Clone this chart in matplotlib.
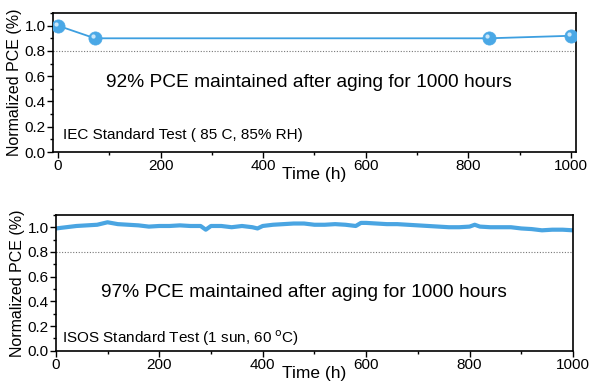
import matplotlib.pyplot as plt
from matplotlib.ticker import MultipleLocator
from matplotlib.path import Path

plt.rcParams['font.family'] = ['Liberation Sans', 'DejaVu Sans']

# IEC damp-heat test (85 C, 85% RH)
iec_time = [0, 72, 840, 1000]
iec_pce = [1.00, 0.90, 0.90, 0.92]

# ISOS light-soaking test (1 sun, 60 C)
isos_time = [0, 20, 40, 60, 80, 100, 120, 140, 160, 180, 200, 220, 240, 260,
             280, 290, 300, 320, 340, 360, 380, 390, 400, 420, 440, 460, 480,
             500, 520, 540, 560, 580, 590, 600, 620, 640, 660, 680, 700, 720,
             740, 760, 780, 800, 810, 820, 840, 860, 880, 900, 920, 940, 960,
             980, 1000]
isos_pce = [0.99, 1.00, 1.01, 1.015, 1.02, 1.04, 1.025, 1.02, 1.015, 1.005,
            1.01, 1.01, 1.015, 1.01, 1.01, 0.98, 1.01, 1.01, 1.00, 1.01, 1.00,
            0.99, 1.01, 1.02, 1.025, 1.03, 1.03, 1.02, 1.02, 1.025, 1.02, 1.01,
            1.035, 1.035, 1.03, 1.025, 1.025, 1.02, 1.015, 1.01, 1.005, 1.00,
            1.00, 1.005, 1.02, 1.005, 1.00, 1.00, 1.00, 0.99, 0.985, 0.975,
            0.98, 0.98, 0.975]

blue = '#3d9fe0'

# small offset highlight to make the markers look like spheres
hl = Path.circle(center=(-0.3, 0.3), radius=0.32)
highlight = Path(list(hl.vertices) + [(1, 1), (-1, -1)],
                 list(hl.codes) + [Path.MOVETO, Path.MOVETO])

fig = plt.figure(figsize=(6, 3.83), dpi=100)
ax1 = fig.add_axes([0.088, 0.603, 0.872, 0.363])
ax2 = fig.add_axes([0.093, 0.084, 0.862, 0.355])


def style(ax):
    ax.set_ylim(0, 1.1)
    ax.axhline(0.8, color='#777777', lw=0.8, ls=(0, (1, 1.5)))
    ax.xaxis.set_major_locator(MultipleLocator(200))
    ax.xaxis.set_minor_locator(MultipleLocator(100))
    ax.yaxis.set_major_locator(MultipleLocator(0.2))
    ax.yaxis.set_minor_locator(MultipleLocator(0.1))
    ax.tick_params(which='both', direction='out', labelsize=11, pad=1)
    ax.tick_params(which='major', length=4, width=1)
    ax.tick_params(which='minor', length=2.5, width=1)
    for s in ax.spines.values():
        s.set_linewidth(1.2)
    ax.set_xlabel('Time (h)', fontsize=12.5, labelpad=-4)
    ax.set_ylabel('Normalized PCE (%)', fontsize=11.5, labelpad=2)
    ax.yaxis.set_major_formatter(plt.FuncFormatter(lambda v, p: f'{v:.1f}'))


ax1.plot(iec_time, iec_pce, color=blue, lw=1.3, marker='o', ms=9.5,
         mfc='#4aa8e6', mec='#4aa8e6', mew=0.5, zorder=3)
ax1.plot(iec_time, iec_pce, ls='none', marker=highlight, ms=9.5,
         mfc='#d8eefc', mec='none', alpha=0.9, zorder=4)
ax1.set_xlim(-10, 1010)
style(ax1)
ax1.text(0.49, 0.5, '92% PCE maintained after aging for 1000 hours',
         transform=ax1.transAxes, ha='center', va='center', fontsize=13.8)
ax1.text(0.02, 0.12, 'IEC Standard Test ( 85 C, 85% RH)',
         transform=ax1.transAxes, ha='left', va='center', fontsize=11)

ax2.plot(isos_time, isos_pce, color='#4aa5e2', lw=3, solid_joinstyle='round')
ax2.set_xlim(0, 1000)
style(ax2)
ax2.text(0.48, 0.43, '97% PCE maintained after aging for 1000 hours',
         transform=ax2.transAxes, ha='center', va='center', fontsize=13.8)
ax2.text(0.012, 0.095, 'ISOS Standard Test (1 sun, 60 $^{\\mathrm{o}}$C)',
         transform=ax2.transAxes, ha='left', va='center', fontsize=11)

fig.savefig('out.png', dpi=100)
